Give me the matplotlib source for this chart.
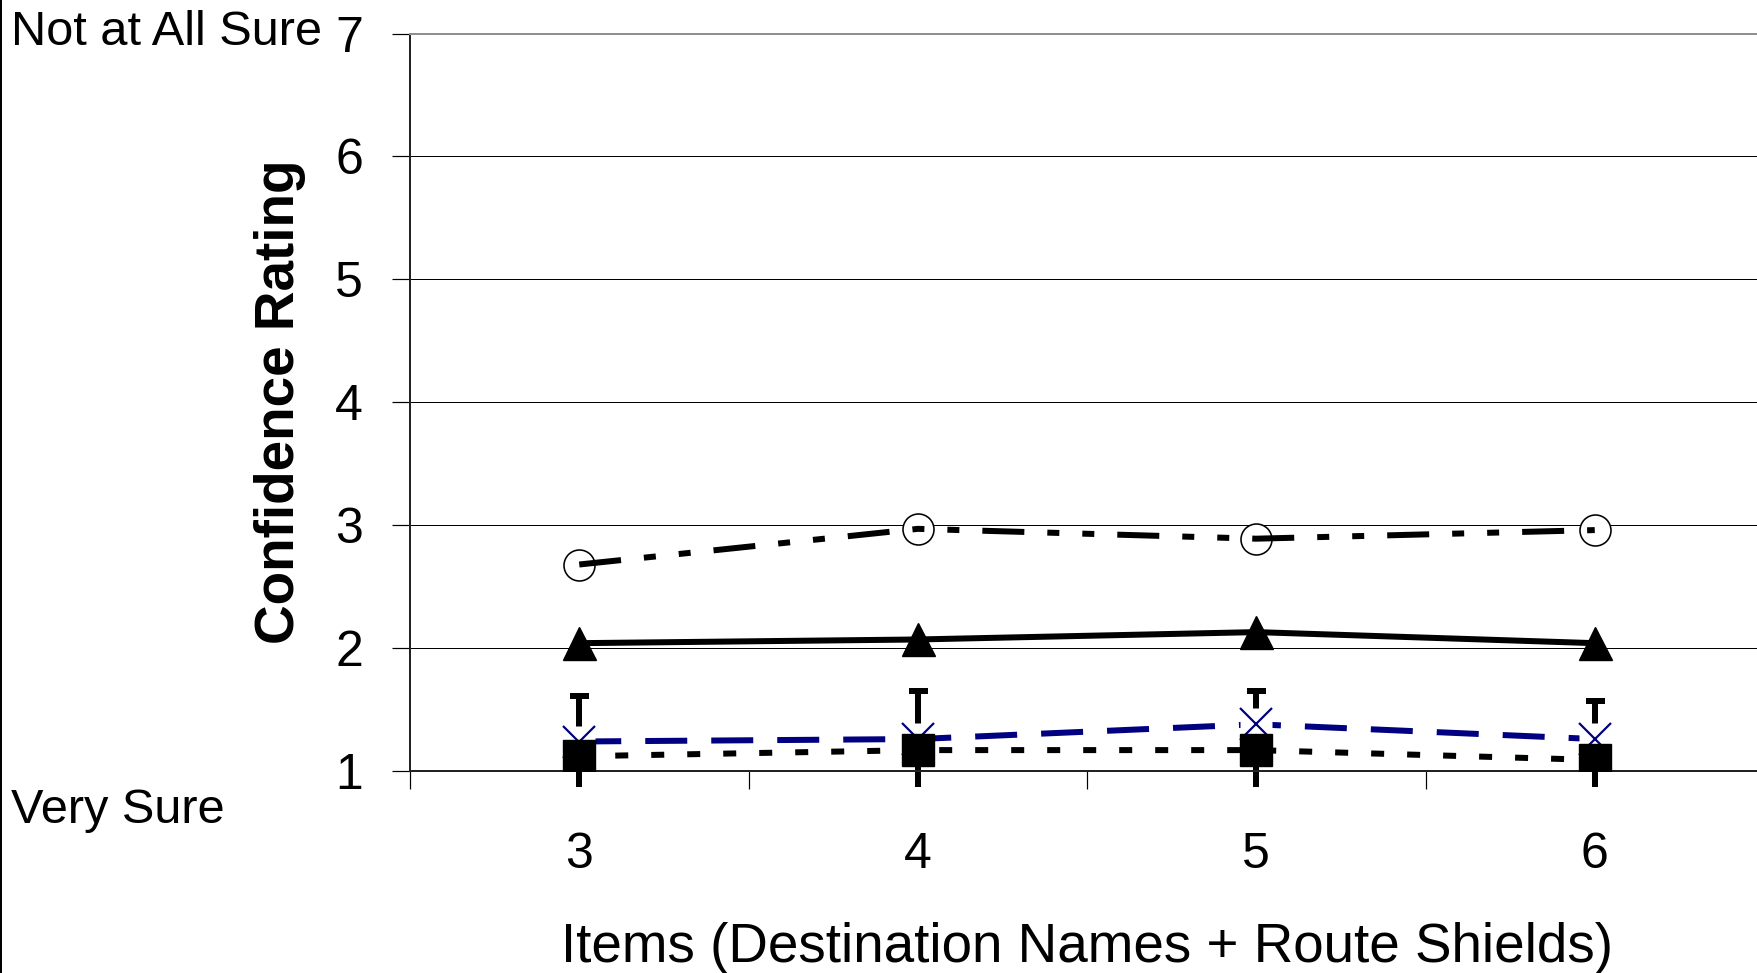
import matplotlib
matplotlib.use("Agg")
import matplotlib.pyplot as plt
from matplotlib.lines import Line2D
from matplotlib.patches import Rectangle
from matplotlib.ticker import FixedLocator

# ---- data ----
items = [3, 4, 5, 6]
circle_vals = [2.68, 2.97, 2.89, 2.96]      # open circles, dash-dot-dot
triangle_vals = [2.04, 2.07, 2.13, 2.04]    # filled triangles, solid
xmark_vals = [1.24, 1.26, 1.38, 1.26]       # navy x, dashed
square_vals = [1.12, 1.17, 1.17, 1.09]      # filled squares, dotted
square_err = [0.49, 0.48, 0.48, 0.48]
y_ticks = [1, 2, 3, 4, 5, 6, 7]

W, H, DPI = 1757, 973, 100
PX = 72.0 / DPI  # points per pixel

plt.rcParams['font.family'] = ['Liberation Sans', 'DejaVu Sans']

fig = plt.figure(figsize=(W / DPI, H / DPI), dpi=DPI)
fig.patch.set_facecolor('white')

ax_l, ax_r, ax_t, ax_b = 410, 1764, 33.5, 771
ax = fig.add_axes([ax_l / W, 1 - ax_b / H, (ax_r - ax_l) / W, (ax_b - ax_t) / H])
ax.set_xlim(2.5, 6.5)
ax.set_ylim(1, 7)

# grid & spines
ax.set_axisbelow(True)
ax.yaxis.grid(True, color='black', lw=1.0 * PX)
ax.xaxis.grid(False)
ax.spines['right'].set_visible(False)
ax.spines['top'].set_color('#8f8f8f')
ax.spines['top'].set_linewidth(2 * PX)
ax.spines['left'].set_color('#222222')
ax.spines['left'].set_linewidth(2 * PX)
ax.spines['bottom'].set_color('#222222')
ax.spines['bottom'].set_linewidth(2 * PX)

# y ticks
ax.yaxis.set_major_locator(FixedLocator(y_ticks))
ax.set_yticklabels([str(v) for v in y_ticks])
ax.tick_params(axis='y', which='major', direction='out', length=18 * PX,
               width=1.2 * PX, color='black', pad=29 * PX, labelsize=36)

# x ticks: labels at categories, tick marks at category boundaries
ax.xaxis.set_major_locator(FixedLocator(items))
ax.set_xticklabels([str(v) for v in items])
ax.xaxis.set_minor_locator(FixedLocator([2.5, 3.5, 4.5, 5.5, 6.5]))
ax.tick_params(axis='x', which='major', length=0, pad=44, labelsize=36)
ax.tick_params(axis='x', which='minor', direction='out', length=18 * PX,
               width=1.2 * PX, color='black')

# error bars (square series), clipped at the plot-area bottom
clip_rect = Rectangle((2.5, 0.87), 4.0, 6.5, transform=ax.transData)
eb = ax.errorbar(items, square_vals, yerr=square_err, fmt='none', ecolor='black',
                 elinewidth=6 * PX, capsize=9.5 * PX, capthick=6 * PX, zorder=2)
for art in list(eb.lines[1]) + list(eb.lines[2]):
    art.set_clip_path(clip_rect)

# lines
lw_s = 6.0
ax.plot(items, triangle_vals, color='black', lw=lw_s * PX, ls='-', zorder=3,
        solid_capstyle='butt')
lw_d = 6.0
ax.plot(items, square_vals, color='black', lw=lw_d * PX, zorder=3,
        dashes=(13 / lw_d, 23 / lw_d))
ax.plot(items, xmark_vals, color='#000080', lw=lw_d * PX, zorder=3,
        dashes=(42 / lw_d, 24 / lw_d))

# circle markers under their own dash-dot-dot line
ax.plot(items, circle_vals, ls='none', marker='o', ms=31 * PX, mfc='white',
        mec='black', mew=1.6 * PX, zorder=3.4)
lw_c = 6.0
ax.plot(items, circle_vals, color='black', lw=lw_c * PX, zorder=3.6,
        dashes=(42 / lw_c, 23 / lw_c, 12 / lw_c, 23 / lw_c, 12 / lw_c, 23 / lw_c))

# white background boxes behind x markers
ax.plot(items, xmark_vals, ls='none', marker='s', ms=32 * PX, mfc='white',
        mec='none', zorder=4)

# markers
ax.plot(items, triangle_vals, ls='none', marker='^', ms=33 * PX, mfc='black',
        mec='black', zorder=5)
ax.plot(items, xmark_vals, ls='none', marker='x', ms=32 * PX, mec='#000080',
        mew=2.2 * PX, zorder=5)
ax.plot(items, square_vals, ls='none', marker='s', ms=32 * PX, mfc='black',
        mec='black', zorder=5.5)

# texts
fig.text(11 / W, 1 - 45 / H, 'Not at All Sure', fontsize=35.1, ha='left',
         va='baseline')
fig.text(11 / W, 1 - 823 / H, 'Very Sure', fontsize=35.1, ha='left',
         va='baseline')
fig.text(1087 / W, 1 - 962 / H, 'Items (Destination Names + Route Shields)',
         fontsize=39.4, ha='center', va='baseline')
fig.text(280 / W, 1 - 402 / H, 'Confidence Rating', fontsize=39.5,
         fontweight='bold', rotation=90, ha='center', va='center')

# left border of the chart area
fig.add_artist(Line2D([1 / W, 1 / W], [0, 1], transform=fig.transFigure,
                      color='black', lw=2 * PX))

fig.savefig('out.png', dpi=DPI, facecolor='white')
